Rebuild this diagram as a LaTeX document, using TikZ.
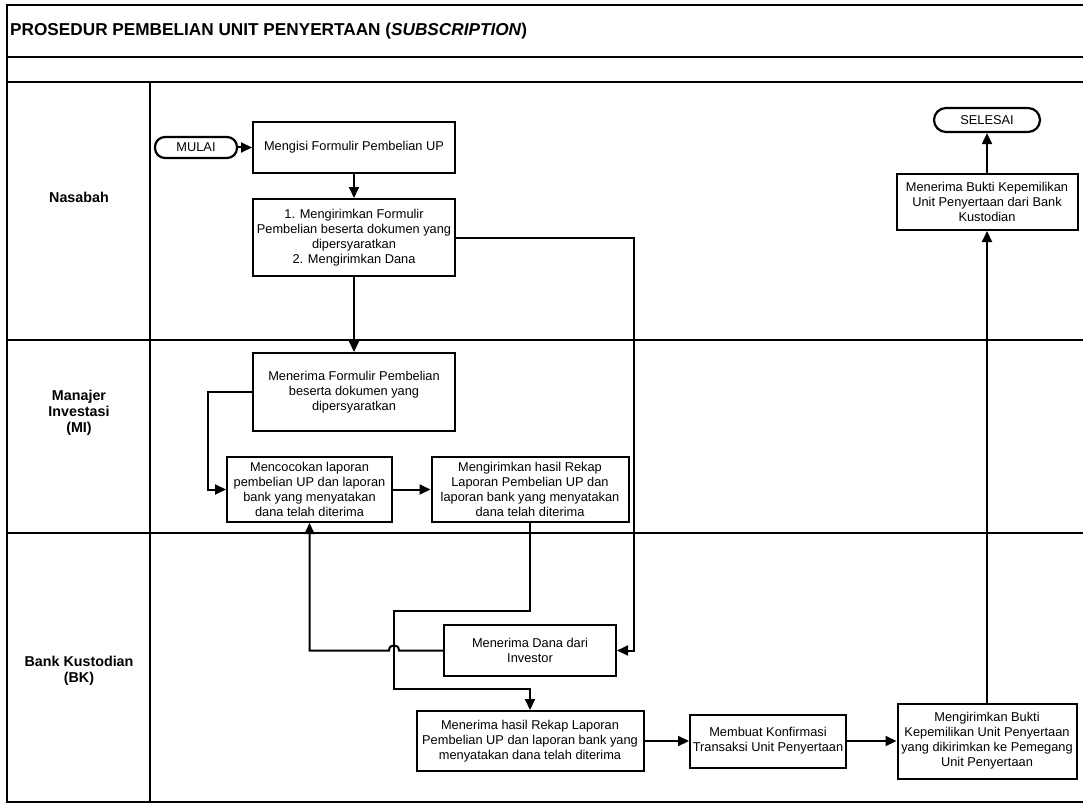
\documentclass[tikz,border=0pt]{standalone}
\usepackage{fontspec}
\setmainfont{Liberation Sans}
\usetikzlibrary{arrows.meta}
\newcommand{\boxfont}{\fontsize{12.8}{15}\selectfont}
\begin{document}
\begin{tikzpicture}[x=1pt,y=-1pt,
  flowbox/.style={draw,line width=2pt,align=center,inner sep=0pt,font=\boxfont},
  term/.style={draw,line width=2.2pt,rounded corners=10pt,align=center,inner sep=0pt,font=\boxfont},
  arr/.style={line width=2pt,-{Triangle[length=11pt,width=10pt]}},
  frame/.style={line width=2.6pt},
  lane/.style={line width=1.9pt},
  lanelab/.style={align=center,font=\fontsize{14.3}{16}\selectfont\bfseries}]
\useasboundingbox (0,0) rectangle (1083,805);
\clip (0,0) rectangle (1083,805);
% frame
\draw[frame] (1095,5) -- (7,5) -- (7,802) -- (1095,802);
\draw[frame] (7,57) -- (1095,57);
\draw[frame] (7,82) -- (1095,82);
\draw[lane] (7,340) -- (1095,340);
\draw[lane] (7,533) -- (1095,533);
\draw[frame] (150,82) -- (150,802);
% title
\node[anchor=west,inner sep=0pt,font=\fontsize{17.2}{19}\selectfont\bfseries] (title) at (10,31) {PROSEDUR PEMBELIAN UNIT PENYERTAAN (\textit{SUBSCRIPTION})};
% lane labels
\node[lanelab] (lnas) at (79,197) {Nasabah};
\node[lanelab] (lmi) at (79,413) {Manajer\\Investasi\\(MI)};
\node[lanelab] (lbk) at (79,671) {Bank Kustodian\\(BK)};
% nodes
\node[term,minimum width=82pt,minimum height=21pt] (mulai) at (196,147.5) {MULAI};
\node[flowbox,minimum width=202pt,minimum height=51pt] (mengisi) at (354,147.5) {Mengisi Formulir Pembelian UP};
\node[flowbox,minimum width=202pt,minimum height=77pt] (kirim) at (354,237.5) {1. Mengirimkan Formulir\\Pembelian beserta dokumen yang\\dipersyaratkan\\2. Mengirimkan Dana};
\node[flowbox,minimum width=202pt,minimum height=78pt] (terimaForm) at (354,392) {Menerima Formulir Pembelian\\beserta dokumen yang\\dipersyaratkan};
\node[flowbox,minimum width=165pt,minimum height=65pt] (cocok) at (309.5,489.5) {Mencocokan laporan\\pembelian UP dan laporan\\bank yang menyatakan\\dana telah diterima};
\node[flowbox,minimum width=197pt,minimum height=65pt] (rekap) at (530,489.5) {Mengirimkan hasil Rekap\\Laporan Pembelian UP dan\\laporan bank yang menyatakan\\dana telah diterima};
\node[flowbox,minimum width=172pt,minimum height=51pt] (dana) at (530,650.5) {Menerima Dana dari\\Investor};
\node[flowbox,minimum width=227pt,minimum height=60pt] (terimaRekap) at (530,741) {Menerima hasil Rekap Laporan\\Pembelian UP dan laporan bank yang\\menyatakan dana telah diterima};
\node[flowbox,minimum width=156pt,minimum height=53pt] (konf) at (768,741) {Membuat Konfirmasi\\Transaksi Unit Penyertaan};
\node[flowbox,minimum width=179pt,minimum height=75pt] (bukti) at (987,741) {Mengirimkan Bukti\\Kepemilikan Unit Penyertaan\\yang dikirimkan ke Pemegang\\Unit Penyertaan};
\node[flowbox,minimum width=181pt,minimum height=56pt] (terimaBukti) at (987,202) {Menerima Bukti Kepemilikan\\Unit Penyertaan dari Bank\\Kustodian};
\node[term,minimum width=106pt,minimum height=24pt,rounded corners=12pt] (selesai) at (987,120) {SELESAI};
% connectors
\coordinate (c1) at (634,237.5);
\coordinate (c2) at (208,392);
\coordinate (c3) at (394,611);
\coordinate (c4) at (394,689);
\coordinate (h1) at (399,650.5);
\coordinate (h2) at (389,650.5);
\draw[arr] (mulai) -- (mengisi);
\draw[arr] (mengisi) -- (kirim);
\draw[arr] (kirim) -- (terimaForm);
\draw[arr] (kirim.east) -- (c1) |- (dana.east);
\draw[arr] (terimaForm.west) -- (c2) |- (cocok.west);
\draw[arr] (cocok) -- (rekap);
\draw[arr] (rekap.south) |- (c3) -- (c4) -| (terimaRekap.north);
\draw[arr] (dana.west) -- (h1) .. controls (399,643.5) and (389,643.5) .. (h2) -| (cocok.south);
\draw[arr] (terimaRekap) -- (konf);
\draw[arr] (konf) -- (bukti);
\draw[arr] (bukti) -- (terimaBukti);
\draw[arr] (terimaBukti) -- (selesai);
\end{tikzpicture}
\end{document}
